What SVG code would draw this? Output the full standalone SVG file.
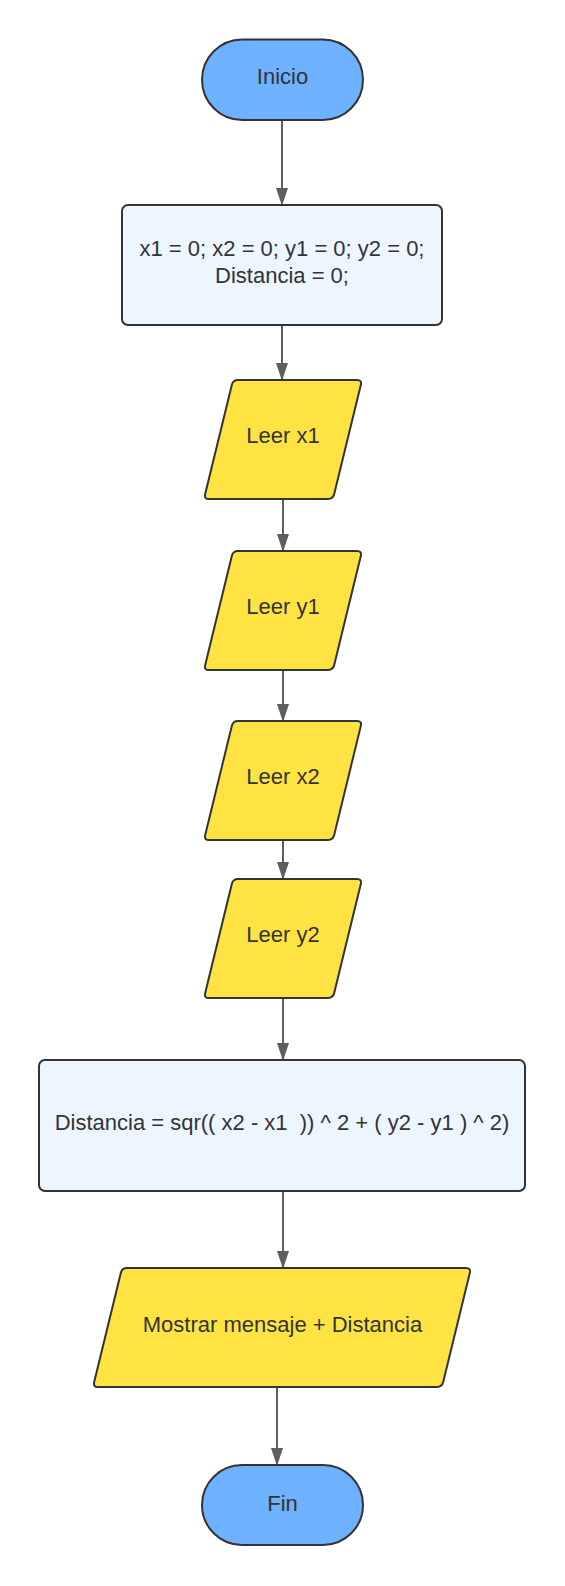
<svg xmlns="http://www.w3.org/2000/svg" width="565" height="1586" viewBox="0 0 565 1586">
<style>
.term{fill:#6db1ff;stroke:#333333;stroke-width:2}
.proc{fill:#edf5ff;stroke:#333333;stroke-width:2}
.io{fill:#ffe342;stroke:#333333;stroke-width:2}
.lbl{font-family:"Liberation Sans",Arial,sans-serif;font-size:22px;fill:#333333;text-anchor:middle;white-space:pre}
.edge{fill:none;stroke:#5e5e5e;stroke-width:2}
</style>
<defs>
<marker id="arr" markerUnits="userSpaceOnUse" markerWidth="18" markerHeight="12" refX="17" refY="6" viewBox="0 0 18 12" orient="auto">
<path d="M0,0 L18,6 L0,12 Z" fill="#5e5e5e"/>
</marker>
<path id="para" d="M 34,0 H 153 Q 158,0 156.8,4.9 L 130.2,114.1 Q 129,119 124,119 H 5 Q 0,119 1.2,114.1 L 27.8,4.9 Q 29,0 34,0 Z"/>
</defs>
<g id="connectors">
<line class="edge" x1="282" y1="120" x2="282" y2="205" marker-end="url(#arr)"/>
<line class="edge" x1="282" y1="325" x2="282" y2="380" marker-end="url(#arr)"/>
<line class="edge" x1="283" y1="499" x2="283" y2="551" marker-end="url(#arr)"/>
<line class="edge" x1="283" y1="670" x2="283" y2="721" marker-end="url(#arr)"/>
<line class="edge" x1="283" y1="840" x2="283" y2="879" marker-end="url(#arr)"/>
<line class="edge" x1="283" y1="998" x2="283" y2="1060" marker-end="url(#arr)"/>
<line class="edge" x1="283" y1="1191" x2="283" y2="1268" marker-end="url(#arr)"/>
<line class="edge" x1="277" y1="1388" x2="277" y2="1465" marker-end="url(#arr)"/>
</g>
<g id="inicio">
<rect class="term" x="202" y="39.5" width="161" height="80.5" rx="40.25" ry="40.25"/>
<text class="lbl" x="282.5" y="84">Inicio</text>
</g>
<g id="init">
<rect class="proc" x="122" y="205" width="320" height="120" rx="6" ry="6"/>
<text class="lbl" x="282" y="256">x1 = 0; x2 = 0; y1 = 0; y2 = 0;</text>
<text class="lbl" x="282" y="283">Distancia = 0;</text>
</g>
<g id="leer_x1">
<use href="#para" class="io" x="204" y="380"/>
<text class="lbl" x="283" y="443">Leer x1</text>
</g>
<g id="leer_y1">
<use href="#para" class="io" x="204" y="551"/>
<text class="lbl" x="283" y="614">Leer y1</text>
</g>
<g id="leer_x2">
<use href="#para" class="io" x="204" y="721"/>
<text class="lbl" x="283" y="784">Leer x2</text>
</g>
<g id="leer_y2">
<use href="#para" class="io" x="204" y="879"/>
<text class="lbl" x="283" y="942">Leer y2</text>
</g>
<g id="calc">
<rect class="proc" x="39" y="1060" width="486" height="131" rx="6" ry="6"/>
<text class="lbl" x="282" y="1130">Distancia = sqr(( x2 - x1  )) ^ 2 + ( y2 - y1 ) ^ 2)</text>
</g>
<g id="mostrar">
<path class="io" d="M 127,1268 H 466 Q 471,1268 469.8,1272.9 L 443.2,1382.1 Q 442,1387 437,1387 H 98 Q 93,1387 94.2,1382.1 L 120.8,1272.9 Q 122,1268 127,1268 Z"/>
<text class="lbl" x="282.5" y="1332">Mostrar mensaje + Distancia</text>
</g>
<g id="fin">
<rect class="term" x="202" y="1465" width="161" height="80" rx="40" ry="40"/>
<text class="lbl" x="282.5" y="1511">Fin</text>
</g>
</svg>
